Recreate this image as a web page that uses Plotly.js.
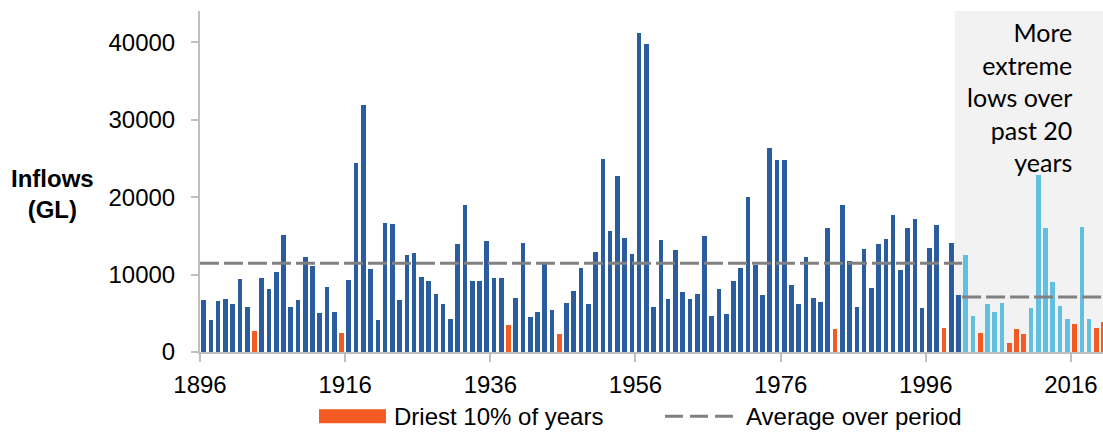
<!DOCTYPE html>
<html>
<head>
<meta charset="utf-8">
<script src="https://cdn.plot.ly/plotly-3.0.1.min.js"></script>
<style>
  html, body { margin: 0; padding: 0; background: #ffffff; }
  #chart { width: 1103px; height: 432px; }
</style>
</head>
<body>
<div id="chart"></div>
<script>
// ---- data ----
const years = [];
for (let y = 1896; y <= 2020; y++) years.push(y);

const inflows = [
  6700, 4120, 6570, 6830, 6190, 9450, 5840, 2750, 9620, 8160,      // 1896-1905
  10350, 15160, 5750, 6740, 12330, 11080, 5070, 8460, 5150, 2490,  // 1906-1915
  9320, 24480, 31950, 10780, 4120, 16700, 16480, 6710, 12570, 12740, // 1916-1925
  9640, 9120, 7530, 6150, 4260, 13900, 18970, 9210, 9210, 14320,  // 1926-1935
  9550, 9550, 3530, 6970, 14030, 4560, 5160, 11610, 5380, 2280,   // 1936-1945
  6370, 7870, 10860, 6240, 12900, 24900, 15660, 22800, 14710, 12650, // 1946-1955
  41160, 39830, 5860, 14410, 6890, 13210, 7740, 6800, 7480, 14970, // 1956-1965
  4650, 8180, 4860, 9210, 10890, 19960, 11280, 7400, 26320, 24740, // 1966-1975
  24740, 8650, 6150, 12220, 6970, 6450, 15960, 2970, 18970, 11700, // 1976-1985
  5860, 13340, 8310, 13980, 14580, 17640, 10630, 15960, 17120, 5730, // 1986-1995
  13420, 16390, 3100, 14050, 7420, 12590, 4640, 2400, 6190, 5200,  // 1996-2005
  6270, 1110, 2960, 2280, 5720, 22810, 15980, 9020, 5930, 4300,    // 2006-2015
  3650, 16110, 4210, 3050, 3820                                    // 2016-2020
];

const driestYears = [1903, 1915, 1938, 1945, 1983, 1998, 2003, 2007, 2008, 2009, 2016, 2019, 2020];
const recentStartYear = 2001;      // first year of the "past 20 years" series
const shadeStartYear = 2000;       // shaded panel begins with this year
const averageEarly = 11470;        // average 1896-2000
const averageRecent = 7100;        // average 2001-2020

const xTickYears = [1896, 1916, 1936, 1956, 1976, 1996, 2016];
const yTicks = [0, 10000, 20000, 30000, 40000];

// ---- colours ----
const DARK = '#2b5c9e', LIGHT = '#62bfe0', ORANGE = '#f35b25';
const barColors = years.map(y =>
  driestYears.includes(y) ? ORANGE : (y >= recentStartYear ? LIGHT : DARK));

const xMin = years[0] - 0.5;
const xMax = xMin + 903 / 7.258;

const FONT = 'Liberation Sans, Arial, sans-serif';

const traces = [
  {
    type: 'bar', x: years, y: inflows,
    marker: { color: barColors, line: { width: 0 } },
    width: 0.64, showlegend: false, hoverinfo: 'x+y'
  },
  {
    type: 'scatter', mode: 'lines',
    x: [xMin, recentStartYear - 0.5], y: [averageEarly, averageEarly],
    line: { color: '#808080', width: 3, dash: '19px,5px' },
    showlegend: false, hoverinfo: 'skip'
  },
  {
    type: 'scatter', mode: 'lines',
    x: [recentStartYear - 0.5, xMax], y: [averageRecent, averageRecent],
    line: { color: '#808080', width: 3, dash: '19px,5px' },
    showlegend: false, hoverinfo: 'skip'
  }
];

// pixel helpers for legend/annotation placement (plot area 200..1103 x 11..351.7)
const px = v => (v - 200) / 903;
const py = v => (351.7 - v) / 340.7;

const layout = {
  width: 1103, height: 432,
  margin: { l: 200, r: 0, t: 11, b: 80.3, pad: 0 },
  paper_bgcolor: '#ffffff', plot_bgcolor: 'rgba(0,0,0,0)',
  font: { family: FONT, color: '#000000', size: 24 },
  bargap: 0,
  xaxis: {
    range: [xMin, xMax],
    tickmode: 'array',
    tickvals: xTickYears.map(y => y - 0.5),
    ticktext: xTickYears.map(String),
    ticks: 'outside', ticklen: 8, tickwidth: 2, tickcolor: '#bfbfbf',
    showline: true, linecolor: '#bfbfbf', linewidth: 2,
    showgrid: false, zeroline: false,
    tickfont: { family: FONT, size: 24, color: '#000' },
    ticklabelstandoff: 2
  },
  yaxis: {
    range: [0, 44050],
    tickmode: 'array', tickvals: yTicks, ticktext: yTicks.map(String),
    ticks: 'outside', ticklen: 7, tickwidth: 2, tickcolor: '#bfbfbf',
    showline: true, linecolor: '#bfbfbf', linewidth: 2,
    showgrid: false, zeroline: false,
    tickfont: { family: FONT, size: 24, color: '#000' },
    ticklabelstandoff: 11
  },
  shapes: [
    { type: 'rect', xref: 'x', yref: 'paper', x0: shadeStartYear - 0.5, x1: xMax, y0: 0, y1: 1,
      fillcolor: '#f2f2f2', line: { width: 0 }, layer: 'below' },
    { type: 'rect', xref: 'paper', yref: 'paper', x0: px(319), x1: px(386), y0: py(423), y1: py(409),
      fillcolor: ORANGE, line: { width: 0 } },
    { type: 'line', xref: 'paper', yref: 'paper', x0: px(665), x1: px(733), y0: py(416), y1: py(416),
      line: { color: '#808080', width: 3, dash: '18px,7px' } }
  ],
  annotations: [
    { xref: 'paper', yref: 'paper', x: px(52), y: py(194), xanchor: 'center', yanchor: 'middle',
      text: '<b>Inflows<br>(GL)</b>', showarrow: false, align: 'center',
      font: { family: FONT, size: 24, color: '#000' } },
    { xref: 'paper', yref: 'paper', x: px(1074), y: py(15), xanchor: 'right', yanchor: 'top',
      text: 'More<br>extreme<br>lows over<br>past 20<br>years', showarrow: false, align: 'right',
      font: { family: 'Lato, Open Sans, sans-serif', size: 25, color: '#000' } },
    { xref: 'paper', yref: 'paper', x: px(392), y: py(416), xanchor: 'left', yanchor: 'middle',
      text: 'Driest 10% of years', showarrow: false,
      font: { family: FONT, size: 24, color: '#000' } },
    { xref: 'paper', yref: 'paper', x: px(744), y: py(416), xanchor: 'left', yanchor: 'middle',
      text: 'Average over period', showarrow: false,
      font: { family: FONT, size: 24, color: '#000' } }
  ]
};

Plotly.newPlot('chart', traces, layout, { displayModeBar: false, staticPlot: true });
</script>
</body>
</html>
